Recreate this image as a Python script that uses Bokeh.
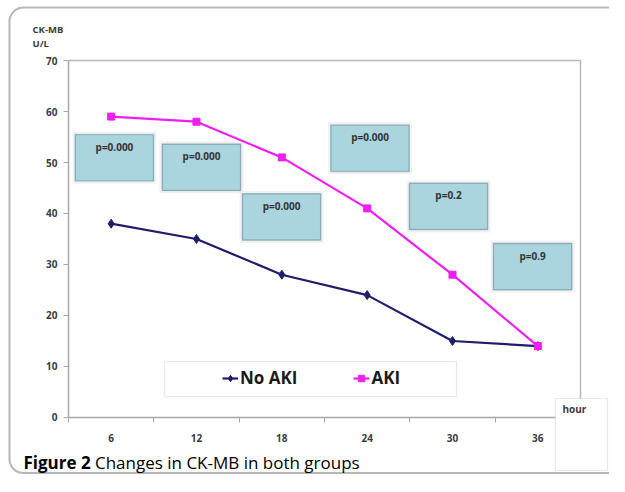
from bokeh.plotting import figure
from bokeh.models import (Range1d, FixedTicker, Label, BoxAnnotation, Legend, LegendItem,
                          ColumnDataSource, LinearAxis)
from bokeh.core.properties import value
from bokeh.embed import file_html
from bokeh.resources import INLINE

# ---- data ----
hours = [6, 12, 18, 24, 30, 36]
no_aki = [38, 35, 28, 24, 15, 14]
aki = [59, 58, 51, 41, 28, 14]
p_labels = ["p=0.000", "p=0.000", "p=0.000", "p=0.000", "p=0.2", "p=0.9"]
y_ticks = [0, 10, 20, 30, 40, 50, 60, 70]

# ---- layout of the p-value callouts (data coordinates of box centres) ----
box_x = [6.23, 12.35, 17.98, 24.2, 29.72, 35.63]
box_y = [50.93, 49.06, 39.32, 52.79, 41.39, 29.59]

FONT = value("Open Sans")
GREY = "#a8a8a8"

# the frame covers the whole canvas; axes are pinned with fixed_location
p = figure(width=609, height=476, output_backend="svg", toolbar_location=None,
           x_range=Range1d(-1.781, 41.039), y_range=Range1d(-11.569, 81.765),
           min_border=0, min_border_left=0, min_border_right=0,
           min_border_top=0, min_border_bottom=0,
           background_fill_color="white", border_fill_color="white")
p.grid.visible = False
p.outline_line_color = None

# x axis
xa = p.xaxis[0]
xa.fixed_location = 0
xa.bounds = (3, 39)
xa.ticker = FixedTicker(ticks=hours, minor_ticks=[3, 9, 15, 21, 27, 33, 39])
xa.major_tick_line_color = None
xa.major_tick_out = 0
xa.major_tick_in = 0
xa.minor_tick_out = 5
xa.minor_tick_in = 0
xa.minor_tick_line_color = GREY
xa.axis_line_color = GREY
xa.axis_line_width = 1.5
xa.major_label_standoff = 12

# y axis
ya = p.yaxis[0]
ya.fixed_location = 3
ya.bounds = (0, 70)
ya.ticker = FixedTicker(ticks=y_ticks)
ya.minor_tick_line_color = None
ya.major_tick_out = 5
ya.major_tick_in = 0
ya.major_tick_line_color = GREY
ya.axis_line_color = GREY
ya.axis_line_width = 1.5
ya.major_label_standoff = 6

for ax in (xa, ya):
    ax.major_label_text_font = "Open Sans"
    ax.major_label_text_font_style = "bold"
    ax.major_label_text_font_size = "10px"
    ax.major_label_text_color = "#3c3c3c"

# plot-area border (top and right)
top_ax = LinearAxis(fixed_location=70, bounds=(3, 39), ticker=FixedTicker(ticks=[]),
                    major_tick_line_color=None, minor_tick_line_color=None,
                    major_label_text_font_size="0px", axis_line_color="#b8b8b8",
                    axis_line_width=1.5)
p.add_layout(top_ax, "above")
right_ax = LinearAxis(fixed_location=39, bounds=(0, 70), ticker=FixedTicker(ticks=[]),
                      major_tick_line_color=None, minor_tick_line_color=None,
                      major_label_text_font_size="0px", axis_line_color="#b8b8b8",
                      axis_line_width=1.5)
p.add_layout(right_ax, "right")

# p-value callout boxes
src = ColumnDataSource(dict(x=box_x, y=box_y, t=p_labels))
p.rect("x", "y", width=84, height=52, width_units="screen", height_units="screen",
       source=src, fill_color="#e6e6e6", fill_alpha=0.5, line_color=None)
p.rect("x", "y", width=80, height=48, width_units="screen", height_units="screen",
       source=src, fill_color="#9a9a9a", fill_alpha=0.35, line_color=None)
p.rect("x", "y", width=78, height=46, width_units="screen", height_units="screen",
       source=src, fill_color="#aad5df", line_color="#86aeb8", line_width=1.2)
p.text("x", "y", text="t", source=src, text_font=FONT, text_font_style="bold",
       text_font_size="10px", text_color="#333333", text_align="center",
       text_baseline="middle", y_offset=-11)

# legend frame
p.add_layout(BoxAnnotation(left=9.75, right=30.28, bottom=4.12, top=10.98,
                           fill_color="white", fill_alpha=1,
                           line_color="#b4b4b4", line_width=1.2))

# series
r1 = p.line(hours, no_aki, line_color="#1f1c6c", line_width=2.2)
s1 = p.scatter(hours, no_aki, marker="diamond", size=9, fill_color="#1f1c6c", line_color="#1f1c6c")
r2 = p.line(hours, aki, line_color="#f01ef0", line_width=2.2)
s2 = p.scatter(hours, aki, marker="square", size=7, fill_color="#f01ef0", line_color="#f01ef0")

legend = Legend(items=[LegendItem(label="No AKI", renderers=[r1, s1]),
                       LegendItem(label="AKI", renderers=[r2, s2])],
                orientation="horizontal", location=(222, 87),
                padding=0, margin=0, spacing=56, glyph_width=16, label_standoff=2,
                border_line_color=None, background_fill_alpha=0,
                label_text_font="Open Sans", label_text_font_style="bold",
                label_text_font_size="17px", label_text_color="#1a1a1a")
p.add_layout(legend)

# "hour" box
p.add_layout(BoxAnnotation(left=37.24, right=40.9, bottom=-10.39, top=3.73,
                           fill_color="white", fill_alpha=1,
                           line_color="#b4b4b4", line_width=1.2))
p.add_layout(Label(x=37.73, y=1.76, text="hour", text_font="Open Sans",
                   text_font_style="bold", text_font_size="10px", text_color="#3c3c3c",
                   text_baseline="middle"))

# y-axis title
p.add_layout(Label(x=0.47, y=76.02, text="CK-MB", text_font="Open Sans",
                   text_font_style="bold", text_font_size="9.5px", text_color="#3c3c3c",
                   text_baseline="middle"))
p.add_layout(Label(x=0.47, y=73.39, text="U/L", text_font="Open Sans",
                   text_font_style="bold", text_font_size="9.5px", text_color="#3c3c3c",
                   text_baseline="middle"))

# outer rounded frame (right side runs off the page)
p.add_layout(BoxAnnotation(left=-1.149, right=50, bottom=-10.9, top=80.39,
                           fill_alpha=0, line_color="#111111", line_width=2,
                           border_radius=14))

# caption
p.add_layout(Label(x=-0.164, y=-8.9, text="Figure 2", text_font="Open Sans",
                   text_font_style="bold", text_font_size="17px", text_color="black",
                   text_baseline="middle"))
p.add_layout(Label(x=4.86, y=-8.9, text="Changes in CK-MB in both groups",
                   text_font="Open Sans", text_font_size="17px", text_color="black",
                   text_baseline="middle"))

open("out.html", "w").write(file_html(p, INLINE))
